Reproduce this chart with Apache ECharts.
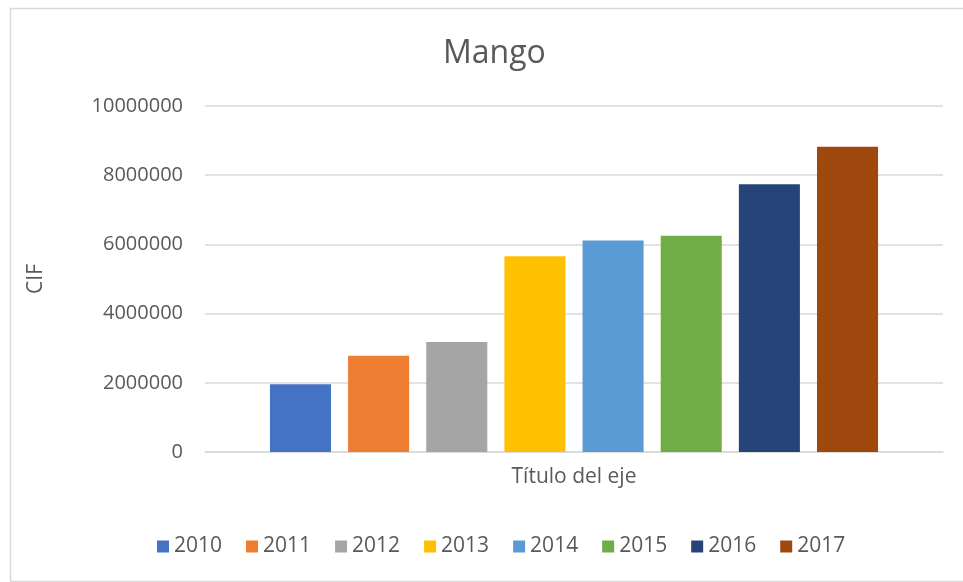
<!DOCTYPE html>
<html>
<head>
<meta charset="utf-8">
<script src="https://cdn.jsdelivr.net/npm/echarts@6/dist/echarts.min.js"></script>
<style>
    html, body { margin: 0; padding: 0; background: #fff; }
    #chart { width: 963px; height: 582px; }
</style>
</head>
<body>
<div id="chart"></div>
<script>
    // years shown in the legend, one bar each
    var years = ['2010', '2011', '2012', '2013', '2014', '2015', '2016', '2017'];
    // CIF values
    var cifValues = [1960000, 2780000, 3180000, 5660000, 6110000, 6250000, 7740000, 8820000];
    var barColors = ['#4472C4', '#ED7D31', '#A5A5A5', '#FFC000', '#5B9BD5', '#70AD47', '#264478', '#9E480E'];
    var categories = [''];

    var font = 'Open Sans';
    var textColor = '#595959';

    var series = years.map(function (y, i) {
        return {
            name: y,
            type: 'bar',
            data: [cifValues[i]],
            itemStyle: {color: barColors[i]},
            barGap: '28%',
            barCategoryGap: '17.6%',
            emphasis: {disabled: true}
        };
    });

    var myChart = echarts.init(document.getElementById('chart'));
    myChart.setOption({
        animation: false,
        backgroundColor: '#fff',
        title: {
            text: 'Mango',
            left: 438,
            top: 33,
            textStyle: {fontFamily: font, fontSize: 32, fontWeight: 'normal', color: textColor}
        },
        legend: {
            bottom: 20,
            left: 152,
            itemWidth: 12,
            itemHeight: 12,
            itemGap: 24,
            icon: 'rect',
            textStyle: {fontFamily: font, fontSize: 21, color: textColor}
        },
        grid: {
            left: 205,
            right: 20,
            top: 106,
            bottom: 130
        },
        xAxis: {
            type: 'category',
            data: categories,
            name: 'Título del eje',
            nameLocation: 'middle',
            nameGap: 15,
            nameTextStyle: {fontFamily: font, fontSize: 21, color: textColor},
            axisLine: {lineStyle: {color: '#d9d9d9', width: 1.5}},
            axisTick: {show: false},
            axisLabel: {show: false}
        },
        yAxis: {
            type: 'value',
            min: 0,
            max: 10000000,
            interval: 2000000,
            name: 'CIF',
            nameLocation: 'middle',
            nameGap: 158,
            nameTextStyle: {fontFamily: font, fontSize: 21, color: textColor},
            axisLine: {show: false},
            axisTick: {show: false},
            axisLabel: {
                fontFamily: font, fontSize: 20, color: textColor, margin: 22,
                formatter: function (v) { return String(v); }
            },
            splitLine: {lineStyle: {color: '#d9d9d9', width: 1.5}}
        },
        graphic: [{
            type: 'rect',
            left: 8,
            top: 6,
            shape: {width: 980, height: 573},
            style: {fill: 'none', stroke: '#d9d9d9', lineWidth: 1.5},
            silent: true
        }],
        series: series
    });
</script>
</body>
</html>
